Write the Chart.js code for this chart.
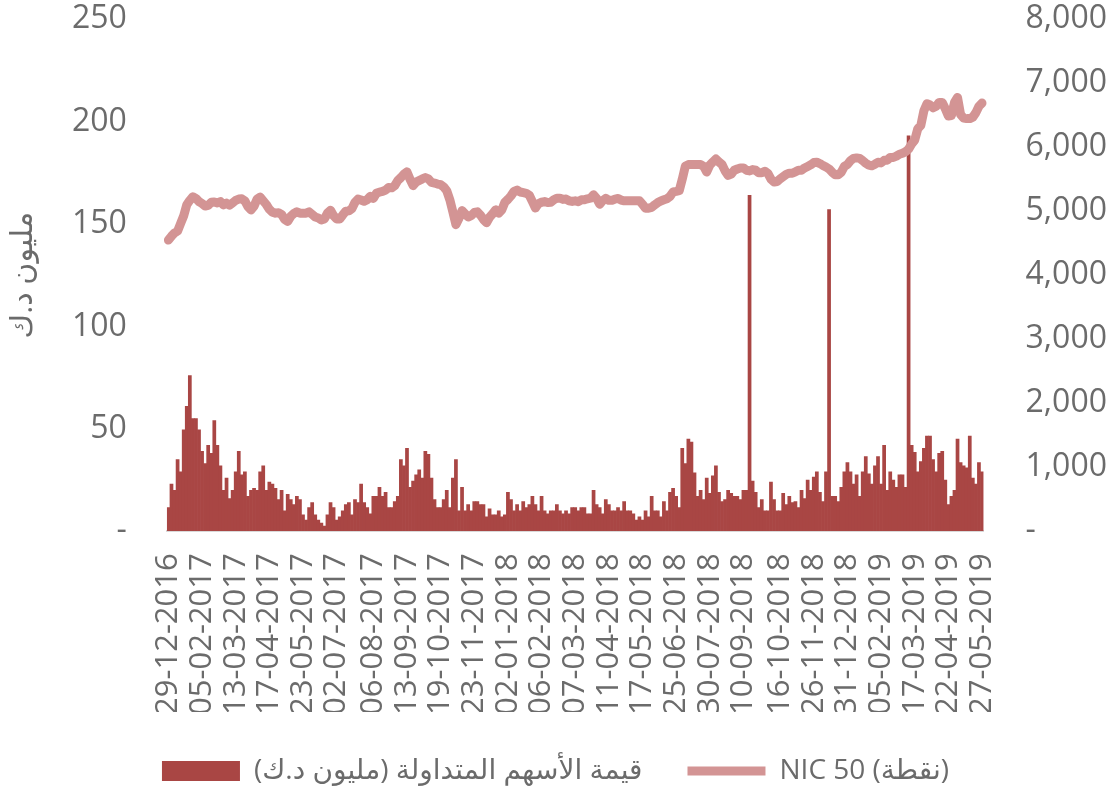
<!DOCTYPE html>
<html>
<head>
<meta charset="utf-8">
<title>NIC 50 and traded value</title>
<script src="https://cdn.jsdelivr.net/npm/chart.js@4.4.1/dist/chart.umd.min.js"></script>
<style>
    html, body { margin: 0; padding: 0; background: #ffffff; }
    #chart { display: block; }
</style>
</head>
<body>
<canvas id="chart" width="1115" height="795"></canvas>
<script>
// Dates shown on the x axis (one every few weeks)
const tickDates = ['29-12-2016', '05-02-2017', '13-03-2017', '17-04-2017', '23-05-2017',
    '02-07-2017', '06-08-2017', '13-09-2017', '19-10-2017', '23-11-2017', '02-01-2018',
    '06-02-2018', '07-03-2018', '11-04-2018', '17-05-2018', '25-06-2018', '30-07-2018',
    '10-09-2018', '16-10-2018', '26-11-2018', '31-12-2018', '05-02-2019', '17-03-2019',
    '22-04-2019', '27-05-2019'];

// Value of shares traded (million KD)
const tradedValue = [
    11.5, 23, 20, 35, 29, 49.5, 61, 76, 55, 55, 49.5, 39, 33, 42, 38, 54, 42, 32, 20, 26,
    16, 20, 29, 39, 27.5, 29, 17, 20, 21, 20, 29, 32, 20, 24, 23, 21, 15.5, 20, 10, 18,
    15.5, 13, 17, 15.5, 8, 5.5, 11.5, 14, 8, 5.5, 4, 2.5, 8, 14, 11.5, 5.5, 7, 10, 13, 14,
    8, 15.5, 14, 23, 14, 11.5, 8.5,
    17, 17, 21.5, 17, 19, 11.5, 11.5, 14.5, 17, 35, 32, 40.5, 21.5, 24.5, 27.5, 30, 26, 39, 37.5, 26,
    15.5, 11.5, 11.5, 15.5, 20, 11.5, 26, 35, 10, 21.5, 10, 13, 10, 14.5, 14.5, 13, 13, 7, 11, 8,
    8, 10, 7, 8, 19, 15.5, 10, 13, 10, 14.5, 11.5, 13, 17, 13, 10, 17, 10, 8.5, 10, 10,
    13, 10, 8.5, 10, 8.5, 11.5,
    11.5, 10, 11.5, 11.5, 8.5, 8.5, 20, 13, 11.5, 8.5, 15.5, 13, 10, 10, 11.5, 10, 14.5, 10, 10, 8.5,
    5.5, 7, 5.5, 10, 7, 17, 10, 10, 7, 14.5, 10, 19, 21, 17, 11.5, 40.5, 33, 45, 43.5, 28.5,
    17, 20, 15.5, 26, 18.5, 27, 32, 19, 14.5, 15.5, 20, 18.5, 17, 17, 15.5, 20, 20, 164, 24.5, 19,
    11.5, 15.5, 10, 10, 24, 15.5, 10,
    10, 18.5, 13, 17, 14, 14.5, 11.5, 20, 16, 25, 20, 26.5, 29, 19, 14.5, 29, 157, 17, 17, 14.5,
    21.5, 29, 33.5, 29, 23, 27.5, 17, 29, 36.5, 28, 23, 32, 36.5, 23, 42, 20, 29, 25, 21.5, 27.5,
    27.5, 21.5, 193, 42, 38.5, 29, 34, 40.5, 46.5, 46.5, 35, 29, 38, 39, 25, 13, 17, 20, 45, 33.5,
    32, 31, 46.5, 26, 23, 33.5, 29
];

// NIC 50 index (points)
const nic50 = [
    4549, 4610, 4660, 4690, 4811, 4930, 5100, 5170, 5225, 5200, 5150, 5120, 5080, 5090, 5140, 5145, 5130, 5150, 5100, 5126,
    5095, 5130, 5170, 5190, 5194, 5160, 5070, 5020, 5080, 5190, 5220, 5163, 5105, 5030, 4985, 4970, 4975, 4950, 4870, 4840,
    4920, 4965, 4990, 4969, 4969, 4969, 4990, 4950, 4910, 4895, 4865, 4880, 4970, 5015, 4930, 4879, 4879, 4942, 5000, 5005,
    5040, 5140, 5190, 5175, 5155, 5180, 5231,
    5200, 5280, 5299, 5309, 5330, 5370, 5365, 5400, 5480, 5525, 5580, 5615, 5500, 5400, 5455, 5480, 5505, 5525, 5505, 5450,
    5440, 5425, 5414, 5380, 5320, 5180, 4990, 4790, 4890, 5010, 4960, 4910, 4930, 4980, 4990, 4940, 4870, 4820, 4905, 4960,
    5021, 4970, 5021, 5140, 5185, 5240, 5310, 5330, 5300, 5290, 5280, 5250, 5150, 5050, 5120, 5140, 5150, 5135, 5140, 5180,
    5204, 5204, 5185, 5190, 5163, 5152,
    5163, 5150, 5178, 5178, 5194, 5204, 5257, 5200, 5110, 5165, 5200, 5170, 5170, 5190, 5200, 5175, 5163, 5163, 5163, 5163,
    5163, 5163, 5110, 5047, 5047, 5060, 5100, 5135, 5160, 5178, 5194, 5231, 5300, 5309, 5320, 5500, 5702, 5729, 5729, 5729,
    5729, 5729, 5700, 5613, 5720, 5770, 5815, 5770, 5730, 5630, 5560, 5580, 5640, 5660, 5676, 5676, 5640, 5630, 5650, 5640,
    5600, 5600, 5624, 5590, 5500, 5456, 5465,
    5505, 5540, 5575, 5595, 5595, 5615, 5640, 5640, 5676, 5700, 5725, 5760, 5765, 5745, 5715, 5690, 5660, 5610, 5571, 5571,
    5610, 5700, 5730, 5790, 5825, 5833, 5825, 5790, 5750, 5720, 5710, 5735, 5765, 5755, 5795, 5797, 5840, 5840, 5860, 5890,
    5905, 5930, 5970, 6050, 6110, 6289, 6340, 6570, 6680, 6660, 6615, 6640, 6700, 6700, 6600, 6488, 6495, 6700, 6777, 6510,
    6455, 6447, 6447, 6470, 6540, 6640, 6690
];

const barLabel = 'قيمة الأسهم المتداولة (مليون د.ك)';
const lineLabel = '(نقطة) NIC 50';
const axisTitle = 'مليون د.ك';

const FONT = "'Open Sans', 'DejaVu Sans', sans-serif";
const TEXT_COLOR = '#6b6b6b';

// One category per data point, only some of them carry a date
function buildLabels(count) {
    const labels = new Array(count).fill('');
    tickDates.forEach((d, k) => {
        labels[Math.round(k * (count - 1) / (tickDates.length - 1))] = d;
    });
    return labels;
}

// zero is shown as a dash, like the accounting format of the source
// (a blank braille cell keeps the dash off the right edge, spaces get trimmed)
function formatLeft(value) {
    return value === 0 ? '-\u2800' : String(value);
}

function formatRight(value) {
    return value === 0 ? '-' : value.toLocaleString('en-US');
}

document.addEventListener('DOMContentLoaded', () => {
    const ctx = document.getElementById('chart').getContext('2d');

    new Chart(ctx, {
        type: 'bar',
        data: {
            labels: buildLabels(tradedValue.length),
            datasets: [
                {
                    type: 'bar',
                    label: barLabel,
                    data: tradedValue,
                    backgroundColor: '#a94644',
                    borderWidth: 0,
                    barPercentage: 1,
                    categoryPercentage: 1,
                    pointStyle: 'rect',
                    yAxisID: 'y',
                    order: 1
                },
                {
                    type: 'line',
                    label: lineLabel,
                    data: nic50,
                    borderColor: '#d39494',
                    backgroundColor: '#d39494',
                    borderWidth: 9,
                    borderJoinStyle: 'round',
                    borderCapStyle: 'round',
                    tension: 0,
                    pointRadius: 0,
                    pointStyle: 'line',
                    yAxisID: 'y1',
                    order: 0
                }
            ]
        },
        options: {
            responsive: false,
            animation: false,
            layout: { padding: { left: 4, right: 8, top: 4, bottom: 0 } },
            plugins: {
                tooltip: { enabled: false },
                legend: {
                    position: 'bottom',
                    textDirection: 'rtl',
                    labels: {
                        usePointStyle: true,
                        pointStyleWidth: 78,
                        boxHeight: 20,
                        padding: 45,
                        color: TEXT_COLOR,
                        font: { family: FONT, size: 28 },
                        sort: (a, b) => a.datasetIndex - b.datasetIndex
                    }
                }
            },
            scales: {
                x: {
                    grid: { display: false },
                    border: { display: true, color: '#d9d9d9', width: 2 },
                    ticks: {
                        autoSkip: false,
                        minRotation: 90,
                        maxRotation: 90,
                        padding: 14,
                        color: TEXT_COLOR,
                        font: { family: FONT, size: 31 }
                    },
                    afterFit: (scale) => { scale.height -= 17; }
                },
                y: {
                    position: 'left',
                    min: 0,
                    max: 250,
                    grid: { display: true, drawOnChartArea: false, drawTicks: true, tickLength: 40, tickColor: 'rgba(0,0,0,0)' },
                    border: { display: false },
                    ticks: {
                        stepSize: 50,
                        padding: 0,
                        color: TEXT_COLOR,
                        font: { family: FONT, size: 32 },
                        callback: formatLeft
                    },
                    title: {
                        display: true,
                        text: axisTitle,
                        color: TEXT_COLOR,
                        font: { family: FONT, size: 30 },
                        padding: { top: 1, bottom: 31 }
                    }
                },
                y1: {
                    position: 'right',
                    min: 0,
                    max: 8000,
                    grid: { display: true, drawOnChartArea: false, drawTicks: true, tickLength: 42, tickColor: 'rgba(0,0,0,0)' },
                    border: { display: false },
                    ticks: {
                        stepSize: 1000,
                        padding: 0,
                        color: TEXT_COLOR,
                        font: { family: FONT, size: 32 },
                        callback: formatRight
                    }
                }
            }
        }
    });
});
</script>
</body>
</html>
